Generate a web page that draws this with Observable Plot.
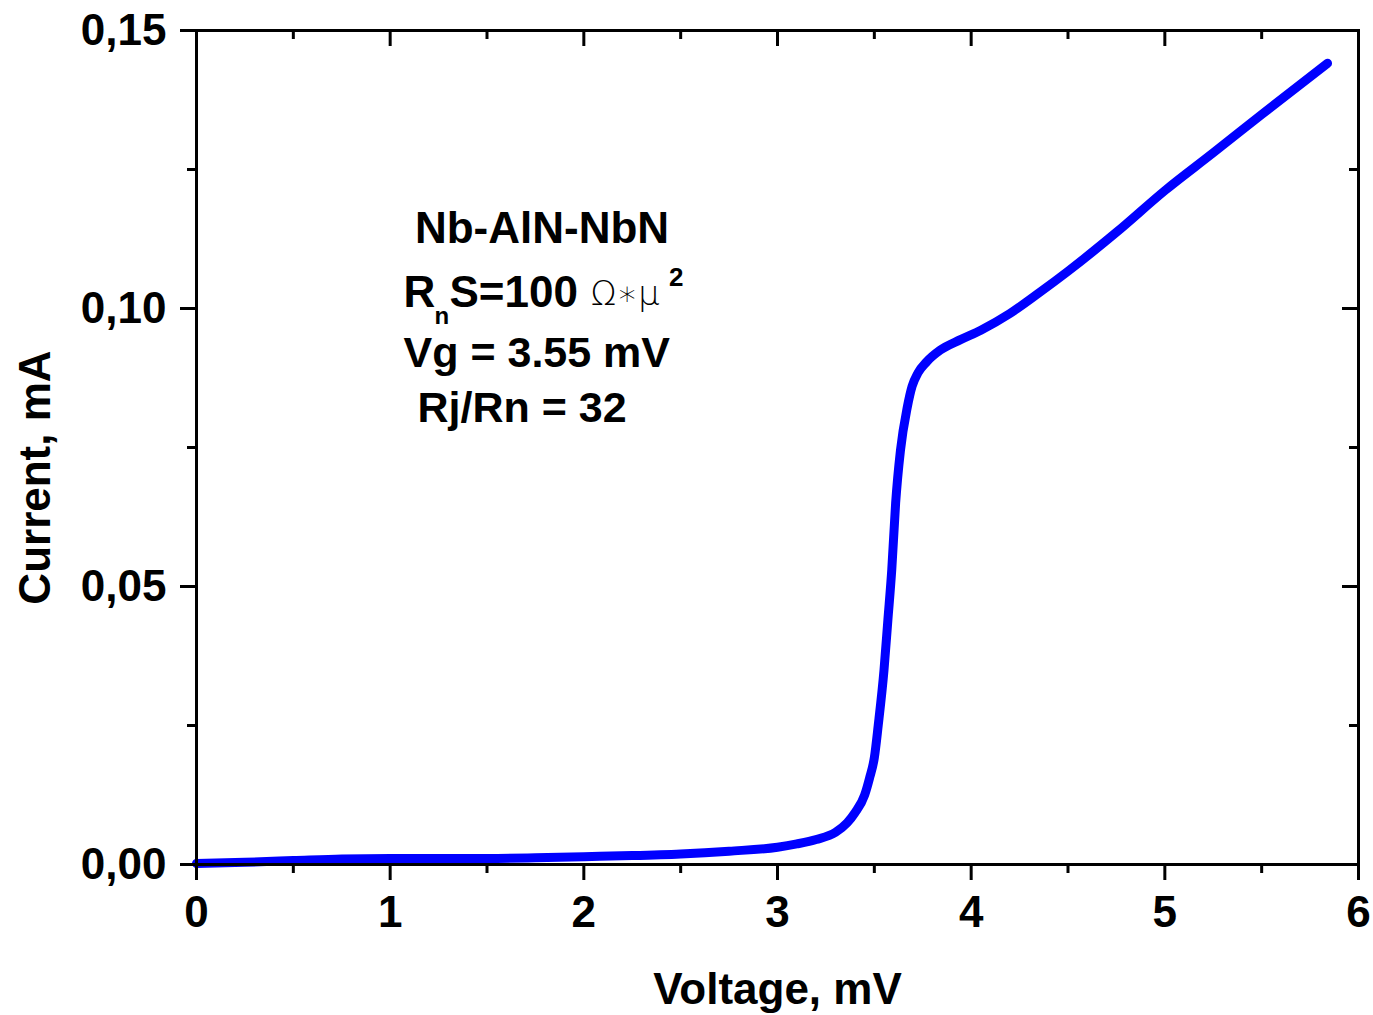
<!DOCTYPE html>
<html>
<head>
<meta charset="utf-8">
<script src="https://cdn.jsdelivr.net/npm/d3@7"></script>
<script src="https://cdn.jsdelivr.net/npm/@observablehq/plot@0.6"></script>
<style>
  html, body { margin: 0; padding: 0; background: #fff; }
  #chart { width: 1373px; height: 1015px; }
</style>
</head>
<body>
<div id="chart"></div>
<script>
// I–V curve of a Nb-AlN-NbN tunnel junction (voltage in mV, current in mA)
const voltage = [0, 0.25, 0.5, 0.75, 1.0, 1.25, 1.5, 1.75, 2.0, 2.25, 2.5, 2.75, 3.0, 3.1, 3.2, 3.3,
  3.36, 3.4, 3.45, 3.475, 3.5, 3.52, 3.55, 3.57, 3.59, 3.61, 3.635, 3.67, 3.695, 3.725, 3.77, 3.84, 3.945, 4.05,
  4.2, 4.35, 4.5, 4.75, 5.0, 5.25, 5.5, 5.84];
const current = [0.0002, 0.0004, 0.0007, 0.0010, 0.0011, 0.0011, 0.0011, 0.0012, 0.0014, 0.0016, 0.0019, 0.0024, 0.0031, 0.0037, 0.0045, 0.0058,
  0.0075, 0.0093, 0.0125, 0.0155, 0.0192, 0.0250, 0.0350, 0.0440, 0.0530, 0.0650, 0.0745, 0.0822, 0.0860, 0.0884, 0.0904, 0.0925, 0.0944, 0.0961,
  0.0991, 0.1028, 0.1067, 0.1137, 0.1212, 0.1280, 0.1349, 0.1441];

// Axis ticks
const xMajor = [0, 1, 2, 3, 4, 5, 6];
const xMinor = [0.5, 1.5, 2.5, 3.5, 4.5, 5.5];
const yMajor = [0, 0.05, 0.10, 0.15];
const yMinor = [0.025, 0.075, 0.125];

// Annotation text
const titleLine = "Nb-AlN-NbN";
const rsMain = "R";
const rsSub = "n";
const rsRest = "S=100";
const rsUnit = "Ω∗μ";
const rsSup = "2";
const gapLine = "Vg = 3.55 mV";
const ratioLine = "Rj/Rn = 32";
const xTitle = "Voltage, mV";
const yTitle = "Current, mA";

const points = d3.zip(voltage, current).map(([v, i]) => ({v, i}));

const W = 1373, H = 1015;
const mL = 196, mR = 15, mT = 30, mB = 151;
const innerW = W - mL - mR, innerH = H - mT - mB;

const font = "'Liberation Sans', Arial, Helvetica, sans-serif";
const bold = {fontFamily: font, fontWeight: "bold", fill: "#000"};
const commaFormat = d => d.toFixed(2).replace(".", ",");

const chart = Plot.plot({
  width: W,
  height: H,
  marginLeft: mL,
  marginRight: mR,
  marginTop: mT,
  marginBottom: mB,
  style: {fontFamily: font, fontWeight: "bold", fontSize: "44px", color: "#000", background: "#fff", overflow: "visible"},
  x: {domain: [0, 6], label: null},
  y: {domain: [0, 0.15], label: null},
  marks: [
    Plot.line(points, {
      x: "v", y: "i", stroke: "#0000ff", strokeWidth: 9,
      curve: "monotone-x", strokeLinecap: "round", strokeLinejoin: "round"
    }),
    // bottom axis: outward ticks
    Plot.axisX(xMajor, {anchor: "bottom", tickSize: 16, tickPadding: 15, strokeWidth: 3,
      tickFormat: d => String(d), fontSize: 44, fontWeight: "bold", label: null}),
    Plot.axisX(xMinor, {anchor: "bottom", tickSize: 9, strokeWidth: 3, tickFormat: () => "", label: null}),
    // left axis: outward ticks
    Plot.axisY(yMajor, {anchor: "left", tickSize: 16, tickPadding: 14, strokeWidth: 3,
      tickFormat: commaFormat, fontSize: 44, fontWeight: "bold", label: null}),
    Plot.axisY(yMinor, {anchor: "left", tickSize: 9, strokeWidth: 3, tickFormat: () => "", label: null}),
    // top and right: inward ticks
    Plot.tickX(xMajor, {x: d => d, insetBottom: innerH - 16, strokeWidth: 3, stroke: "#000"}),
    Plot.tickX(xMinor, {x: d => d, insetBottom: innerH - 9, strokeWidth: 3, stroke: "#000"}),
    Plot.tickY(yMajor, {y: d => d, insetLeft: innerW - 16, strokeWidth: 3, stroke: "#000"}),
    Plot.tickY(yMinor, {y: d => d, insetLeft: innerW - 9, strokeWidth: 3, stroke: "#000"}),
    Plot.frame({stroke: "#000", strokeWidth: 3}),
    // axis titles
    Plot.text([xTitle], {text: d => d, x: 3.0, y: -0.025, textAnchor: "middle", lineAnchor: "bottom",
      fontSize: 44, ...bold}),
    Plot.text([yTitle], {text: d => d, x: -0.754, y: 0.0696, rotate: -90, textAnchor: "middle",
      lineAnchor: "bottom", fontSize: 44, ...bold}),
    // annotation block
    Plot.text([titleLine], {text: d => d, x: 1.784, y: 0.1117, textAnchor: "middle", lineAnchor: "bottom",
      fontSize: 44, ...bold}),
    Plot.text([rsMain], {text: d => d, x: 1.069, y: 0.1002, textAnchor: "start", lineAnchor: "bottom",
      fontSize: 44, ...bold}),
    Plot.text([rsSub], {text: d => d, x: 1.229, y: 0.0972, textAnchor: "start", lineAnchor: "bottom",
      fontSize: 24, ...bold}),
    Plot.text([rsRest], {text: d => d, x: 1.306, y: 0.1002, textAnchor: "start", lineAnchor: "bottom",
      fontSize: 44, ...bold}),
    Plot.text([rsUnit], {text: d => d, x: 2.035, y: 0.1006, textAnchor: "start", lineAnchor: "bottom",
      fontSize: 34, fontFamily: "'DejaVu Sans', sans-serif", fontWeight: 200,
      fill: "#000", letterSpacing: 5}),
    Plot.text([rsSup], {text: d => d, x: 2.44, y: 0.1041, textAnchor: "start", lineAnchor: "bottom",
      fontSize: 26, ...bold}),
    Plot.text([gapLine], {text: d => d, x: 1.069, y: 0.0894, textAnchor: "start", lineAnchor: "bottom",
      fontSize: 43, ...bold}),
    Plot.text([ratioLine], {text: d => d, x: 1.141, y: 0.0795, textAnchor: "start", lineAnchor: "bottom",
      fontSize: 43, ...bold})
  ]
});

document.getElementById("chart").appendChild(chart);
</script>
</body>
</html>
